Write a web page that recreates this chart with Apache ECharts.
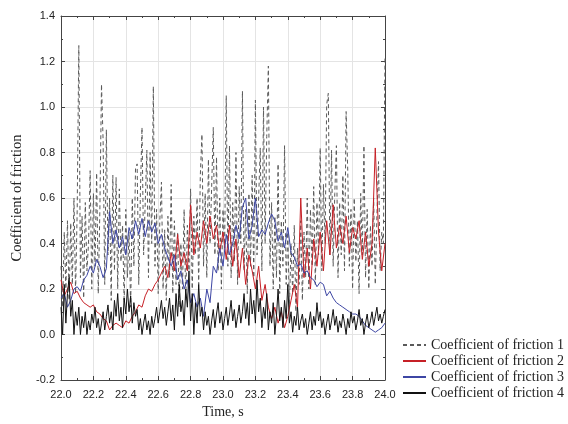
<!DOCTYPE html>
<html>
<head>
<meta charset="utf-8">
<script src="https://cdn.jsdelivr.net/npm/echarts@6/dist/echarts.min.js"></script>
<style>
  html, body { margin: 0; padding: 0; background: #fff; }
  #chart { width: 568px; height: 424px; }
</style>
</head>
<body>
<div id="chart"></div>
<script>
// sampling grids (s)
const timeFine = Array.from({ length: 201 }, (_, i) => +(22 + i * 0.01).toFixed(2))
const timeCoarse = Array.from({ length: 101 }, (_, i) => +(22 + i * 0.02).toFixed(2))

const seriesNames = [
  'Coefficient of friction 1',
  'Coefficient of friction 2',
  'Coefficient of friction 3',
  'Coefficient of friction 4'
]

// friction 1, dashed, 0.01 s step
const friction1 = [
  0.30, 0.12, 0.45, 0.20, 0.50, 0.15, 0.49, 0.22, 0.60, 0.18,
  0.55, 1.27, 0.25, 0.52, 0.16, 0.58, 0.28, 0.40, 0.72, 0.20,
  0.62, 0.30, 0.71, 0.18, 0.55, 1.10, 0.85, 0.22, 0.90, 0.35,
  0.60, 0.15, 0.70, 0.28, 0.69, 0.20, 0.64, 0.32, 0.48, 0.14,
  0.55, 0.25, 0.45, 0.12, 0.60, 0.30, 0.73, 0.75, 0.22, 0.62,
  0.91, 0.35, 0.58, 0.81, 0.25, 0.80, 0.40, 1.09, 0.30, 0.55,
  0.18, 0.50, 0.67, 0.20, 0.46, 0.15, 0.52, 0.25, 0.66, 0.18,
  0.50, 0.22, 0.45, 0.12, 0.40, 0.20, 0.55, 0.15, 0.48, 0.28,
  0.64, 0.20, 0.52, 0.35, 0.60, 0.22, 0.70, 0.88, 0.30, 0.62,
  0.25, 0.77, 0.40, 0.65, 0.91, 0.35, 0.78, 0.28, 0.60, 0.20,
  0.55, 0.38, 1.05, 0.30, 0.83, 0.25, 0.58, 0.32, 0.80, 0.22,
  0.65, 0.40, 1.07, 0.28, 0.55, 0.18, 0.62, 0.30, 0.70, 0.25,
  1.03, 0.35, 0.60, 0.82, 0.28, 1.00, 0.40, 0.87, 1.18, 0.30,
  0.58, 0.20, 0.52, 0.25, 0.75, 0.18, 0.50, 0.30, 0.83, 0.22,
  0.45, 0.12, 0.40, 0.18, 0.48, 0.10, 0.38, 0.22, 0.50, 0.15,
  0.45, 0.25, 0.60, 0.20, 0.55, 0.30, 0.65, 0.22, 0.58, 0.35,
  0.82, 0.28, 0.66, 0.40, 1.01, 1.06, 0.35, 0.81, 0.30, 0.62,
  0.83, 0.25, 0.58, 0.35, 0.70, 0.28, 0.98, 0.72, 0.30, 0.55,
  0.20, 0.60, 0.32, 0.50, 0.18, 0.62, 0.35, 0.83, 0.25, 0.55,
  0.20, 0.48, 0.30, 0.60, 0.22, 0.52, 0.76, 0.28, 0.45, 0.40,
  1.22
]

// friction 2, red, 0.02 s step
const friction2 = [
  0.24, 0.17, 0.20, 0.23, 0.18, 0.19, 0.16, 0.14, 0.13, 0.12,
  0.13, 0.10, 0.09, 0.07, 0.06, 0.02, 0.04, 0.05, 0.04, 0.03,
  0.06, 0.05, 0.08, 0.10, 0.13, 0.12, 0.17, 0.20, 0.19, 0.22,
  0.24, 0.27, 0.30, 0.25, 0.36, 0.28, 0.44, 0.30, 0.36, 0.28,
  0.57, 0.35, 0.45, 0.38, 0.50, 0.40, 0.52, 0.42, 0.48, 0.36,
  0.45, 0.33, 0.48, 0.30, 0.42, 0.25, 0.38, 0.22, 0.35, 0.28,
  0.20, 0.30, 0.15, 0.22, 0.12, 0.07, 0.12, 0.05, 0.10, 0.03,
  0.08, 0.15, 0.22, 0.12, 0.60, 0.25, 0.38, 0.20, 0.42, 0.30,
  0.45, 0.28, 0.50, 0.35, 0.57, 0.38, 0.48, 0.40, 0.52, 0.36,
  0.47, 0.42, 0.50, 0.33, 0.45, 0.30, 0.40, 0.82, 0.45, 0.28,
  0.40
]

// friction 3, blue, 0.02 s step
const friction3 = [
  0.16, 0.18, 0.12, 0.15, 0.20, 0.21, 0.19, 0.24, 0.26, 0.30,
  0.27, 0.33, 0.30, 0.25, 0.29, 0.54, 0.40, 0.46, 0.38, 0.43,
  0.35, 0.47, 0.42, 0.50, 0.44, 0.51, 0.43, 0.50, 0.45, 0.49,
  0.40, 0.44, 0.38, 0.34, 0.30, 0.35, 0.24, 0.28, 0.20, 0.24,
  0.14, 0.18, 0.12, 0.16, 0.08, 0.20, 0.14, 0.30, 0.27, 0.38,
  0.30, 0.44, 0.35, 0.40, 0.48, 0.42, 0.56, 0.60, 0.42, 0.48,
  0.60, 0.43, 0.46, 0.44, 0.49, 0.53, 0.50, 0.41, 0.45, 0.38,
  0.47, 0.36, 0.34, 0.30, 0.31, 0.27, 0.28, 0.25, 0.24, 0.21,
  0.23, 0.22, 0.17, 0.19, 0.16, 0.14, 0.13, 0.12, 0.11, 0.10,
  0.09, 0.09, 0.08, 0.06, 0.04, 0.03, 0.02, 0.01, 0.02, 0.03,
  0.05
]

// friction 4, black, 0.01 s step
const friction4 = [
  0.12, 0.00, 0.22, 0.05, 0.18, 0.25, 0.08, 0.15, 0.00, 0.10,
  0.04, 0.12, 0.00, 0.08, 0.03, 0.10, 0.00, 0.06, 0.02, 0.09,
  0.05, 0.12, 0.03, 0.07, 0.00, 0.05, 0.10, 0.02, 0.08, 0.13,
  0.05, 0.10, 0.02, 0.15, 0.08, 0.18, 0.06, 0.12, 0.03, 0.16,
  0.09, 0.20, 0.10, 0.17, 0.05, 0.14, 0.08, 0.11, 0.02, 0.07,
  0.00, 0.05, 0.09, 0.02, 0.06, 0.00, 0.08, 0.03, 0.07, 0.12,
  0.05, 0.10, 0.15, 0.07, 0.12, 0.04, 0.10, 0.16, 0.06, 0.13,
  0.02, 0.18, 0.08, 0.22, 0.10, 0.15, 0.04, 0.20, 0.12, 0.28,
  0.06, 0.18, 0.00, 0.14, 0.05, 0.22, 0.08, 0.12, 0.02, 0.10,
  0.04, 0.08, 0.00, 0.06, 0.11, 0.03, 0.09, 0.14, 0.05, 0.10,
  0.02, 0.07, 0.12, 0.04, 0.09, 0.15, 0.06, 0.11, 0.03, 0.08,
  0.13, 0.05, 0.10, 0.18, 0.07, 0.14, 0.04, 0.20, 0.09, 0.15,
  0.05, 0.24, 0.10, 0.16, 0.03, 0.12, 0.07, 0.18, 0.02, 0.10,
  0.05, 0.14, 0.00, 0.08, 0.20, 0.06, 0.12, 0.03, 0.15, 0.07,
  0.22, 0.05, 0.10, 0.01, 0.08, 0.04, 0.12, 0.02, 0.06, 0.09,
  0.03, 0.07, 0.00, 0.05, 0.10, 0.02, 0.08, 0.04, 0.14, 0.06,
  0.10, 0.03, 0.07, 0.00, 0.05, 0.09, 0.02, 0.06, 0.11, 0.04,
  0.08, 0.01, 0.06, 0.03, 0.09, 0.05, 0.00, 0.07, 0.03, 0.10,
  0.05, 0.08, 0.02, 0.06, 0.11, 0.04, 0.07, 0.00, 0.05, 0.09,
  0.03, 0.06, 0.10, 0.04, 0.08, 0.12, 0.06, 0.09, 0.05, 0.08,
  0.11
]

const pair = (times, vals) => vals.map((v, i) => [times[i], v])

const chart = echarts.init(document.getElementById('chart'))

const axisColor = '#444'
const labelFont = 'Liberation Sans, Arial, sans-serif'
const serifFont = 'Liberation Serif, Times New Roman, serif'

const frameAxis = {
  axisLine: { show: true, onZero: false, lineStyle: { color: axisColor, width: 1 } },
  axisTick: { show: true, inside: true, length: 4, lineStyle: { color: axisColor } },
  minorTick: { show: true, splitNumber: 2, length: 2, lineStyle: { color: axisColor } },
  axisLabel: { show: false },
  splitLine: { show: false }
}

chart.setOption({
  animation: false,
  backgroundColor: '#fff',
  grid: { left: 61, right: 183, top: 16, bottom: 43 },
  legend: {
    orient: 'vertical',
    left: 402,
    top: 338,
    padding: 0,
    itemWidth: 23,
    itemHeight: 14,
    itemGap: 2,
    // hide the symbol in the middle of the line icon
    itemStyle: { color: 'transparent', borderColor: 'transparent', borderWidth: 0 },
    textStyle: { fontFamily: serifFont, fontSize: 14, color: '#222' },
    data: seriesNames
  },
  xAxis: [
    {
      type: 'value',
      min: 22,
      max: 24,
      interval: 0.2,
      name: 'Time, s',
      nameLocation: 'middle',
      nameGap: 25,
      nameTextStyle: { fontFamily: serifFont, fontSize: 14, color: '#222' },
      axisLine: { show: true, onZero: false, lineStyle: { color: axisColor, width: 1 } },
      axisTick: { show: true, inside: true, length: 4, lineStyle: { color: axisColor } },
      minorTick: { show: true, splitNumber: 2, length: 2, lineStyle: { color: axisColor } },
      axisLabel: {
        fontFamily: labelFont,
        fontSize: 11,
        color: '#222',
        margin: 9,
        formatter: (v) => v.toFixed(1)
      },
      splitLine: { show: true, lineStyle: { color: '#e4e4e4', width: 1 } }
    },
    Object.assign({ type: 'value', min: 22, max: 24, interval: 0.2, position: 'top' }, frameAxis)
  ],
  yAxis: [
    {
      type: 'value',
      min: -0.2,
      max: 1.4,
      interval: 0.2,
      name: 'Coefficient of friction',
      nameLocation: 'middle',
      nameGap: 28,
      nameTextStyle: { fontFamily: serifFont, fontSize: 14.5, color: '#222' },
      axisLine: { show: true, onZero: false, lineStyle: { color: axisColor, width: 1 } },
      axisTick: { show: true, inside: true, length: 4, lineStyle: { color: axisColor } },
      minorTick: { show: true, splitNumber: 2, length: 2, lineStyle: { color: axisColor } },
      axisLabel: {
        fontFamily: labelFont,
        fontSize: 11,
        color: '#222',
        margin: 6,
        formatter: (v) => v.toFixed(1)
      },
      splitLine: { show: true, lineStyle: { color: '#e4e4e4', width: 1 } }
    },
    Object.assign({ type: 'value', min: -0.2, max: 1.4, interval: 0.2, position: 'right' }, frameAxis)
  ],
  series: [
    {
      name: seriesNames[0],
      type: 'line',
      showSymbol: false,
      symbol: 'none',
      data: pair(timeFine, friction1),
      lineStyle: { color: '#5a5a5a', width: 1, type: [4, 3] },
      itemStyle: { color: '#5a5a5a' }
    },
    {
      name: seriesNames[1],
      type: 'line',
      showSymbol: false,
      symbol: 'none',
      data: pair(timeCoarse, friction2),
      lineStyle: { color: '#c62026', width: 1 },
      itemStyle: { color: '#c62026' }
    },
    {
      name: seriesNames[2],
      type: 'line',
      showSymbol: false,
      symbol: 'none',
      data: pair(timeCoarse, friction3),
      lineStyle: { color: '#3d46a4', width: 1 },
      itemStyle: { color: '#3d46a4' }
    },
    {
      name: seriesNames[3],
      type: 'line',
      showSymbol: false,
      symbol: 'none',
      data: pair(timeFine, friction4),
      lineStyle: { color: '#111', width: 1 },
      itemStyle: { color: '#111' }
    }
  ]
})
</script>
</body>
</html>
